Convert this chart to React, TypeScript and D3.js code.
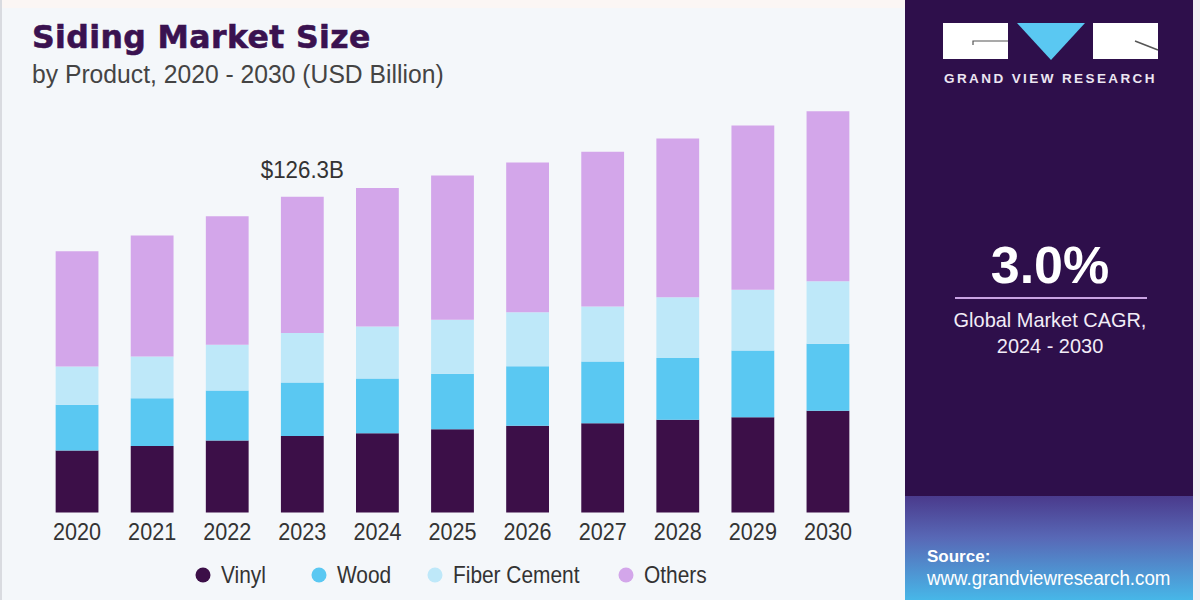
import React from "react";
import * as d3 from "d3";

const years = ["2020","2021","2022","2023","2024","2025","2026","2027","2028","2029","2030"];
const vinyl = [24.8, 26.6, 28.8, 30.6, 31.7, 33.3, 34.7, 35.7, 37.1, 38.1, 40.7];
const wood = [18.3, 19.1, 20.0, 21.4, 21.9, 22.2, 23.8, 24.7, 24.7, 26.7, 26.8];
const fiberCement = [15.3, 16.7, 18.3, 19.8, 20.8, 21.6, 21.6, 22.0, 24.3, 24.3, 25.0];
const others = [46.1, 48.4, 51.4, 54.5, 55.4, 57.7, 59.9, 61.9, 63.5, 65.7, 68.0];
const seriesNames = ["Vinyl", "Wood", "Fiber Cement", "Others"];
const seriesColors = ["#3c0f48", "#5ac8f2", "#bee8f9", "#d3a6ea"];
const annotationYear = "2023";
const annotationLabel = "$126.3B";

const font = "Liberation Sans, Arial, sans-serif";

function SText(props: { x: number; y: number; sx?: number; anchor?: string; size: number; fill: string; weight?: number; spacing?: number; children: any }) {
  const { x, y, sx = 1, anchor = "start", size, fill, weight = 400, spacing = 0, children } = props;
  return (
    <text transform={`translate(${x},${y}) scale(${sx},1)`} textAnchor={anchor as any} fontFamily={font} fontSize={size} fontWeight={weight} fill={fill} letterSpacing={spacing}>
      {children}
    </text>
  );
}

export default function App() {
  const W = 1200, H = 600;
  const rows = years.map((y, i) => ({
    year: y,
    Vinyl: vinyl[i],
    Wood: wood[i],
    "Fiber Cement": fiberCement[i],
    Others: others[i],
  }));
  const stack = d3.stack<any>().keys(seriesNames)(rows);
  const x = d3.scaleBand().domain(years).range([39.5, 865.5]).paddingInner(0.43).paddingOuter(0.215);
  const y = d3.scaleLinear().domain([0, 200]).range([512.5, 12.5]);
  const color = d3.scaleOrdinal<string, string>().domain(seriesNames).range(seriesColors);
  const annIdx = years.indexOf(annotationYear);
  const annTotal = vinyl[annIdx] + wood[annIdx] + fiberCement[annIdx] + others[annIdx];
  const legendX = [203, 319, 435, 626];

  return (
    <svg width={W} height={H} style={{ position: "absolute", left: 0, top: 0, display: "block" }}>
      <defs>
        <linearGradient id="srcGrad" x1="0" y1="0" x2="0" y2="1">
          <stop offset="0" stopColor="#4a3a8c" />
          <stop offset="0.4" stopColor="#5868b6" />
          <stop offset="1" stopColor="#47b7e8" />
        </linearGradient>
      </defs>
      <rect x={0} y={0} width={W} height={H} fill="#f4f7fa" />
      <rect x={0} y={0} width={905} height={8} fill="#fbf6f4" />
      <rect x={0} y={0} width={2} height={H} fill="#d9dbe0" />
      {/* right panel */}
      <rect x={905} y={0} width={295} height={H} fill="#2e0f4b" />
      <rect x={905} y={496} width={288} height={104} fill="url(#srcGrad)" />
      <rect x={1193} y={0} width={7} height={H} fill="#f2f0f4" />

      {/* title */}
      <text x={32} y={48} fontWeight={700} fontSize={31.5} fill="#3a1250" stroke="#3a1250" strokeWidth={0.6} letterSpacing={0.4} style={{ fontFamily: "'DejaVu Sans', sans-serif" }}>
        Siding Market Size
      </text>
      <SText x={32} y={83} sx={0.95} size={26} fill="#444">by Product, 2020 - 2030 (USD Billion)</SText>

      {/* bars */}
      {stack.map((s) => (
        <g key={s.key} fill={color(s.key)}>
          {s.map((d, i) => (
            <rect key={i} x={x(years[i])} y={y(d[1])} width={x.bandwidth()} height={y(d[0]) - y(d[1])} />
          ))}
        </g>
      ))}

      {/* annotation */}
      <SText x={(x(annotationYear) as number) + x.bandwidth() / 2} y={y(annTotal) - 19} anchor="middle" size={23.5} sx={0.95} fill="#333">
        {annotationLabel}
      </SText>

      {/* x labels */}
      {years.map((yr) => (
        <SText key={yr} x={(x(yr) as number) + x.bandwidth() / 2} y={540} anchor="middle" size={24} sx={0.9} fill="#333">
          {yr}
        </SText>
      ))}

      {/* legend */}
      {seriesNames.map((n, i) => (
        <g key={n}>
          <circle cx={legendX[i]} cy={575} r={7.5} fill={seriesColors[i]} />
          <SText x={legendX[i] + 18} y={583} size={24} sx={0.87} fill="#333">{n}</SText>
        </g>
      ))}

      {/* logo */}
      <rect x={943} y={23} width={65} height={36} fill="#ffffff" />
      <path d="M1017,23 L1085,23 L1051,60 Z" fill="#5ac8f2" />
      <rect x={1093} y={23} width={65} height={36} fill="#ffffff" />
      <path d="M973,45 L973,41 L1008,41" stroke="#555" strokeWidth={1.2} fill="none" />
      <path d="M1135,41 L1158,50" stroke="#555" strokeWidth={1.5} fill="none" />
      <SText x={1050.5} y={83} anchor="middle" weight={700} size={13.5} fill="#ece6f2" spacing={2.4}>
        GRAND VIEW RESEARCH
      </SText>

      {/* CAGR */}
      <SText x={1050} y={283} anchor="middle" weight={700} size={52} fill="#ffffff">3.0%</SText>
      <line x1={955} x2={1147} y1={298} y2={298} stroke="#c9a3e3" strokeWidth={2} />
      <SText x={1050} y={327} anchor="middle" size={21} sx={0.95} fill="#f2ecf7">Global Market CAGR,</SText>
      <SText x={1050} y={353} anchor="middle" size={21} sx={0.95} fill="#f2ecf7">2024 - 2030</SText>

      {/* source */}
      <SText x={927} y={562} weight={700} size={17} fill="#ffffff">Source:</SText>
      <SText x={927} y={585} size={19.5} sx={0.96} fill="#ffffff">www.grandviewresearch.com</SText>
    </svg>
  );
}
